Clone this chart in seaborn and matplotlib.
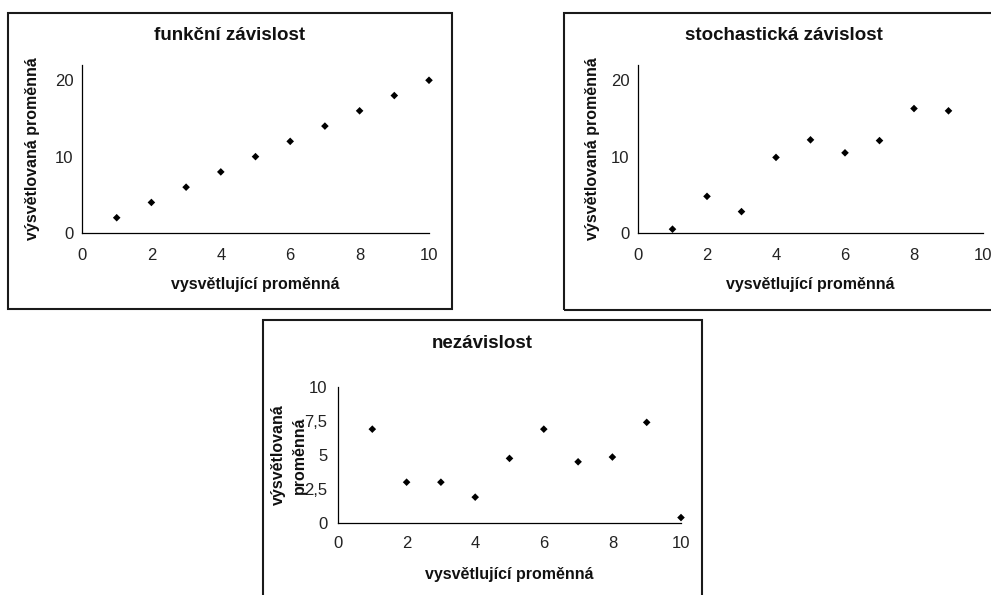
import numpy as np
import pandas as pd
import matplotlib.pyplot as plt
from matplotlib.patches import Rectangle
from matplotlib.ticker import FuncFormatter
import seaborn as sns

# --- data ---
x_func = [1, 2, 3, 4, 5, 6, 7, 8, 9, 10]
y_func = [2, 4, 6, 8, 10, 12, 14, 16, 18, 20]
x_stoch = [1, 2, 3, 4, 5, 6, 7, 8, 9]
y_stoch = [0.5, 4.8, 2.8, 9.9, 12.2, 10.5, 12.1, 16.3, 16.0]
x_indep = [1, 2, 3, 4, 5, 6, 7, 8, 9, 10]
y_indep = [6.9, 3.0, 3.0, 1.9, 4.75, 6.9, 4.5, 4.85, 7.4, 0.4]

titles = ['funkční závislost', 'stochastická závislost', 'nezávislost']
xlabel = 'vysvětlující proměnná'
ylabel = 'výsvětlovaná proměnná'
ylabel_wrapped = 'výsvětlovaná\nproměnná'

sns.set_style('white')
plt.rcParams['font.family'] = ['Liberation Sans', 'DejaVu Sans']

W, H = 991, 595
fig = plt.figure(figsize=(W / 100, H / 100), dpi=100)

TITLE_FS = 13.5
LABEL_FS = 11.5
TICK_FS = 12


def fx(x):
    return x / W


def fy(y):
    return 1 - y / H


def make_axes(l, t, r, b):
    return fig.add_axes([fx(l), fy(b), (r - l) / W, (b - t) / H])


def frame(l, t, r, b):
    fig.add_artist(Rectangle((fx(l), fy(b)), (r - l) / W, (b - t) / H,
                             transform=fig.transFigure, fill=False,
                             edgecolor='#1a1a1a', lw=1.5, clip_on=False))


def style(ax, ymax, yticks, xpad, ypad):
    ax.set_xlim(0, 10)
    ax.set_ylim(0, ymax)
    ax.set_xticks([0, 2, 4, 6, 8, 10])
    ax.set_yticks(yticks)
    for s in ['top', 'right']:
        ax.spines[s].set_visible(False)
    for s in ['left', 'bottom']:
        ax.spines[s].set_color('black')
        ax.spines[s].set_linewidth(0.9)
    ax.tick_params(axis='both', direction='out', length=3.5, width=0.9,
                   color='black', labelsize=TICK_FS, labelcolor='#222222')
    ax.tick_params(axis='x', pad=xpad)
    ax.tick_params(axis='y', pad=ypad)
    ax.set_xlabel('')
    ax.set_ylabel('')
    ax.patch.set_alpha(0)
    for c in ax.collections:
        c.set_clip_on(False)


panels = [
    dict(x=x_func, y=y_func, box=(8, 13, 452, 309), ax=(82, 65, 429, 233),
         ymax=22, yticks=[0, 10, 20], title_y=36, ylab_x=33),
    dict(x=x_stoch, y=y_stoch, box=(564, 13, 1004, 310), ax=(638, 65, 983, 233),
         ymax=22, yticks=[0, 10, 20], title_y=35, ylab_x=592),
]

for i, p in enumerate(panels):
    frame(*p['box'])
    ax = make_axes(*p['ax'])
    df = pd.DataFrame({'x': p['x'], 'y': p['y']})
    sns.scatterplot(data=df, x='x', y='y', ax=ax, marker='D', color='black',
                    edgecolor='none', s=15)
    style(ax, p['ymax'], p['yticks'], xpad=7, ypad=2.5)
    l, t, r, b = p['box']
    al, at, ar, ab = p['ax']
    fig.text(fx((l + r) / 2), fy(p['title_y']), titles[i], ha='center',
             va='center', fontsize=TITLE_FS, fontweight='bold', color='#111111')
    fig.text(fx((al + ar) / 2), fy(284), xlabel, ha='center', va='center',
             fontsize=LABEL_FS, fontweight='bold', color='#111111')
    fig.text(fx(p['ylab_x']), fy((at + ab) / 2), ylabel, ha='center',
             va='center', rotation=90, fontsize=LABEL_FS, fontweight='bold',
             color='#111111')

# third panel (independence)
frame(263, 320, 702, 600)
ax3 = make_axes(338, 387, 681, 523)
df3 = pd.DataFrame({'x': x_indep, 'y': y_indep})
sns.scatterplot(data=df3, x='x', y='y', ax=ax3, marker='D', color='black',
                edgecolor='none', s=15)
style(ax3, 10, [0, 2.5, 5, 7.5, 10], xpad=6, ypad=4)
ax3.yaxis.set_major_formatter(FuncFormatter(lambda v, _: f'{v:g}'.replace('.', ',')))
fig.text(fx(482.5), fy(343), titles[2], ha='center', va='center',
         fontsize=TITLE_FS, fontweight='bold', color='#111111')
fig.text(fx(509.5), fy(575), xlabel, ha='center', va='center',
         fontsize=LABEL_FS, fontweight='bold', color='#111111')
fig.text(fx(289), fy(455), ylabel_wrapped, ha='center', va='center',
         rotation=90, fontsize=LABEL_FS, fontweight='bold', linespacing=1.55,
         multialignment='center', color='#111111')

fig.savefig('out.png', dpi=100)
